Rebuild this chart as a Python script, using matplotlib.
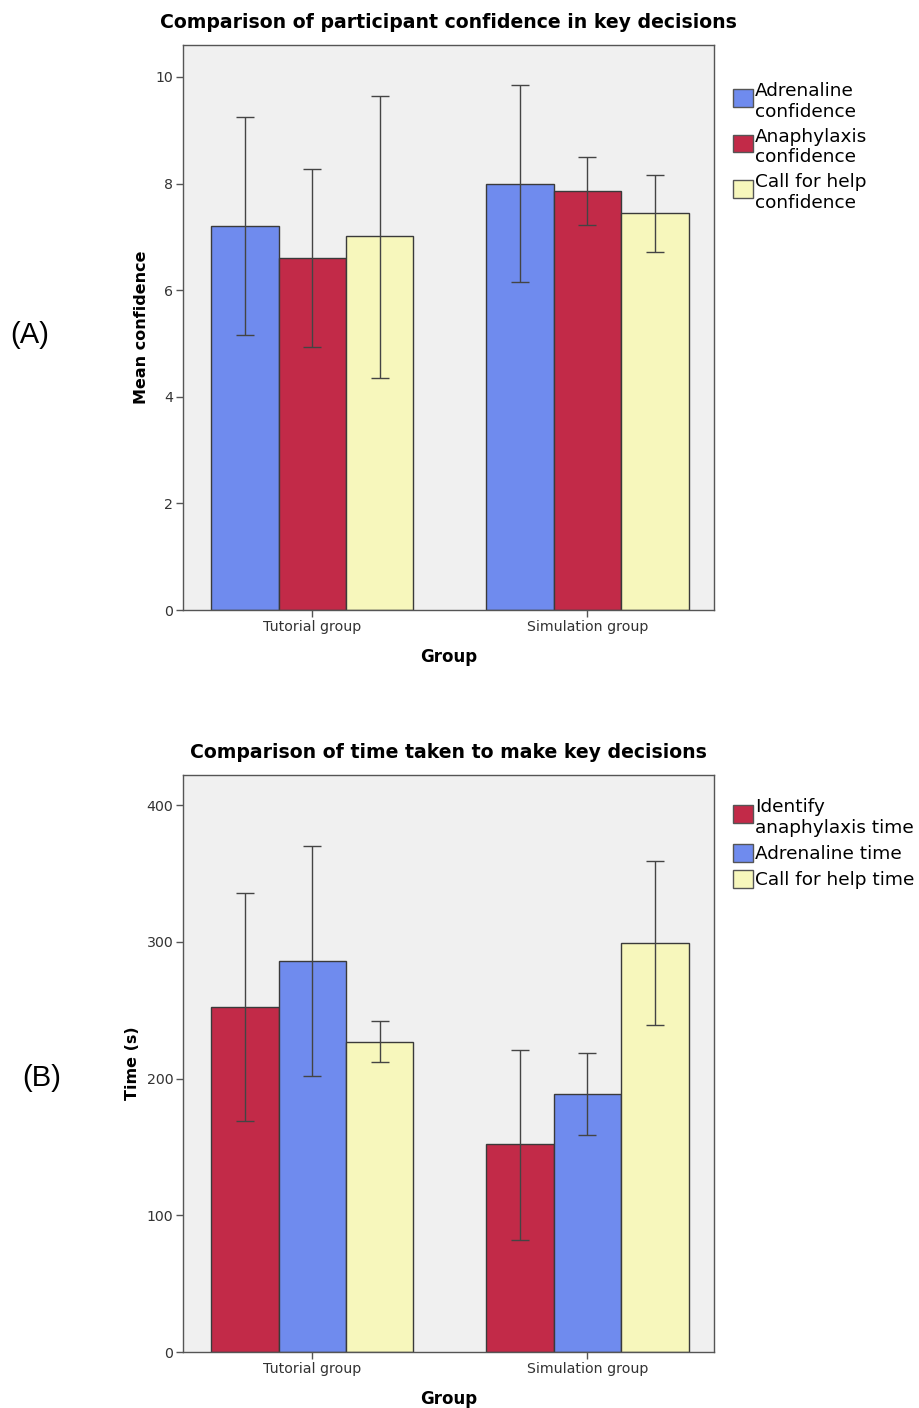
import numpy as np
import matplotlib
matplotlib.use("Agg")
from matplotlib import pyplot as plt
from matplotlib.patches import Patch, Rectangle
from matplotlib.legend_handler import HandlerPatch

plt.rcParams['font.family'] = ['DejaVu Sans']

# ---------------------------------------------------------------- data
groups = ["Tutorial group", "Simulation group"]

# Panel A: confidence
conf_labels = ["Adrenaline\nconfidence", "Anaphylaxis\nconfidence", "Call for help\nconfidence"]
conf_means = [[7.20, 8.00], [6.60, 7.87], [7.02, 7.44]]
conf_upper = [[9.24, 9.85], [8.27, 8.50], [9.64, 8.16]]
conf_lower = [[5.16, 6.15], [4.93, 7.23], [4.36, 6.71]]

# Panel B: time taken
time_labels = ["Identify\nanaphylaxis time", "Adrenaline time", "Call for help time"]
time_means = [[252, 152], [286, 189], [227, 299]]
time_upper = [[336, 221], [370, 219], [242, 359]]
time_lower = [[169, 82], [202, 159], [212, 239]]

BLUE = "#6F8BEE"
RED = "#C22A48"
YELLOW = "#F7F7BC"
conf_colors = [BLUE, RED, YELLOW]
time_colors = [RED, BLUE, YELLOW]

W, H = 919, 1408
fig = plt.figure(figsize=(W / 100, H / 100), dpi=100)


class ShiftedPatch(HandlerPatch):
    """Legend square nudged upward (for two-line labels)."""

    def __init__(self, shift=0.0):
        super().__init__()
        self.shift = shift

    def create_artists(self, legend, orig_handle, xdescent, ydescent, width, height, fontsize, trans):
        p = Rectangle((-xdescent, -ydescent + self.shift), width, height)
        self.update_prop(p, orig_handle, legend)
        p.set_transform(trans)
        return [p]


def draw_panel(rect, means, upper, lower, labels, colors, title, ylabel, ylim, yticks, legend_y):
    ax = fig.add_axes(rect)
    ax.set_facecolor("#F0F0F0")
    x = np.arange(len(groups))
    width = 0.245
    for i, (m, u, l, c) in enumerate(zip(means, upper, lower, colors)):
        pos = x + (i - 1) * width
        ax.bar(pos, m, width, color=c, edgecolor="#3a3a3a", linewidth=1.0, zorder=2)
        m = np.array(m)
        err = [m - np.array(l), np.array(u) - m]
        ax.errorbar(pos, m, yerr=err, fmt="none", ecolor="#444444",
                    elinewidth=1.0, capsize=6.3, capthick=1.0, zorder=3)
    ax.set_xlim(-0.47, 1.46)
    ax.set_ylim(*ylim)
    ax.set_yticks(yticks)
    ax.set_xticks(x)
    ax.set_xticklabels(groups)
    for s in ax.spines.values():
        s.set_color("#555555")
        s.set_linewidth(1.0)
    ax.tick_params(axis="both", direction="out", length=5, width=1, color="#555555",
                   labelsize=10.2, labelcolor="#333333", pad=2)
    ax.set_title(title, fontsize=13.6, fontweight="bold", pad=12)
    ax.set_xlabel("Group", fontsize=12, fontweight="bold", labelpad=10)
    ax.set_ylabel(ylabel, fontsize=11.5, fontweight="bold", labelpad=5)
    handles = [Patch(facecolor=c, edgecolor="#555555", linewidth=1.0) for c in colors]
    hmap = {h: ShiftedPatch(3.0 if "\n" in lab else 0.0) for h, lab in zip(handles, labels)}
    ax.legend(handles, labels, loc="upper left", bbox_to_anchor=(1.036, legend_y),
              frameon=False, fontsize=13.3, handlelength=1.05, handleheight=1.1,
              handletextpad=0.12, labelspacing=0.38, borderaxespad=0, borderpad=0,
              handler_map=hmap)
    return ax


draw_panel([183 / W, 1 - 610 / H, 531 / W, 565 / H], conf_means, conf_upper, conf_lower,
           conf_labels, conf_colors, "Comparison of participant confidence in key decisions",
           "Mean confidence", (0, 10.6), np.arange(0, 11, 2), 0.935)

draw_panel([183 / W, 1 - 1352 / H, 531 / W, 577 / H], time_means, time_upper, time_lower,
           time_labels, time_colors, "Comparison of time taken to make key decisions",
           "Time (s)", (0, 422), np.arange(0, 401, 100), 0.96)

fig.text(30 / W, 1 - 335 / H, "(A)", fontsize=21, family="Liberation Sans", ha="center", va="center")
fig.text(42 / W, 1 - 1078 / H, "(B)", fontsize=21, family="Liberation Sans", ha="center", va="center")

fig.savefig("out.png", dpi=100)
